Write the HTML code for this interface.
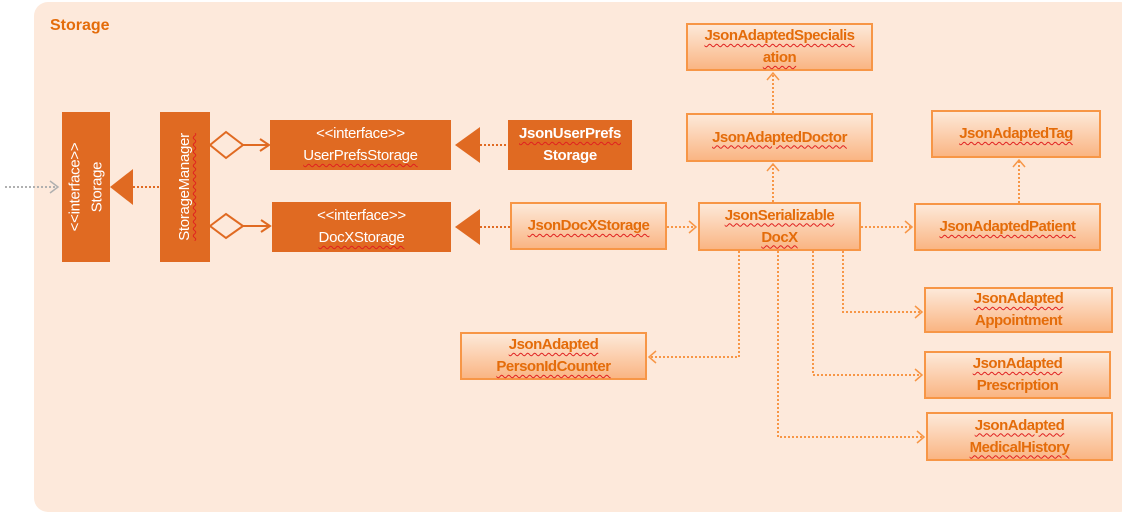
<!DOCTYPE html>
<html><head><meta charset="utf-8"><style>
body{margin:0;width:1122px;height:514px;background:#fff;position:relative;overflow:hidden;font-family:"Liberation Sans",sans-serif;}
.bg{position:absolute;left:34px;top:2px;width:1100px;height:510px;background:#fde9db;border-radius:14px;}
.t{position:absolute;left:50px;top:17px;color:#e46c0a;font-weight:bold;font-size:16px;}
.b{position:absolute;box-sizing:border-box;border:2px solid #f79646;background:linear-gradient(#fde9d9,#fab583);color:#e46c0a;font-weight:bold;font-size:15px;letter-spacing:-0.5px;display:flex;align-items:center;justify-content:center;text-align:center;line-height:22px;}
.d{position:absolute;background:#e06a22;color:#fff;font-size:15px;letter-spacing:-0.3px;display:flex;align-items:center;justify-content:center;text-align:center;line-height:22px;}
.w{text-decoration:underline wavy #e02020;text-decoration-thickness:1px;text-underline-offset:3px;}
.v{transform:rotate(-90deg);white-space:nowrap;}
svg{position:absolute;left:0;top:0;}
</style></head><body>
<div class="bg"></div>
<div class="t">Storage</div>
<svg width="1122" height="514">
<g fill="none" stroke-dasharray="2,2" stroke-width="2">
<line x1="5" y1="187" x2="58" y2="187" stroke="#b0b0b0"/>
<line x1="133" y1="187" x2="160" y2="187" stroke="#e06a22"/>
<line x1="480" y1="145" x2="508" y2="145" stroke="#e06a22"/>
<line x1="480" y1="227" x2="510" y2="227" stroke="#e06a22"/>
<g stroke="#f79646">
<line x1="667" y1="227" x2="696" y2="227"/>
<line x1="861" y1="227" x2="912" y2="227"/>
<line x1="773" y1="202" x2="773" y2="164"/>
<line x1="773" y1="113" x2="773" y2="73"/>
<line x1="1019" y1="203" x2="1019" y2="160"/>
<polyline points="843,251 843,312 922,312"/>
<polyline points="813,251 813,375 922,375"/>
<polyline points="778,251 778,437 924,437"/>
<polyline points="739,251 739,357 649,357"/>
</g></g>
<g fill="none" stroke-width="1.5">
<polyline points="50,181 58,187 50,193" stroke="#b0b0b0"/>
<g stroke="#f79646">
<polyline points="689,221 696,227 689,233"/>
<polyline points="905,221 912,227 905,233"/>
<polyline points="767,171 773,164 779,171"/>
<polyline points="767,80 773,73 779,80"/>
<polyline points="1013,167 1019,160 1025,167"/>
<polyline points="915,306 922,312 915,318"/>
<polyline points="915,369 922,375 915,381"/>
<polyline points="917,431 924,437 917,443"/>
<polyline points="656,351 649,357 656,363"/>
</g>
<g stroke="#e06a22" stroke-width="2">
<polygon points="210,145 226,132 243,145 226,158" fill="#fde9db"/>
<line x1="243" y1="145" x2="269" y2="145"/>
<polyline points="260,139 269,145 260,151"/>
<polygon points="210,226 226,214 243,226 226,238" fill="#fde9db"/>
<line x1="243" y1="226" x2="270" y2="226"/>
<polyline points="261,220 270,226 261,232"/>
</g></g>
<polygon points="110,187 133,169 133,205" fill="#e06a22"/>
<polygon points="455,145 480,127 480,163" fill="#e06a22"/>
<polygon points="455,227 480,209 480,245" fill="#e06a22"/>
</svg>
<div class="d" style="left:62px;top:112px;width:48px;height:150px"><div class="v">&lt;&lt;interface&gt;&gt;<br>Storage</div></div>
<div class="d" style="left:160px;top:112px;width:50px;height:150px"><div class="v"><span class="w">StorageManager</span></div></div>
<div class="d" style="left:270px;top:120px;width:181px;height:50px"><span>&lt;&lt;interface&gt;&gt;<br><span class="w">UserPrefsStorage</span></span></div>
<div class="d" style="left:272px;top:202px;width:179px;height:50px"><span>&lt;&lt;interface&gt;&gt;<br><span class="w">DocXStorage</span></span></div>
<div class="d" style="left:508px;top:120px;width:124px;height:50px;font-weight:bold"><span><span class="w">JsonUserPrefs</span><br>Storage</span></div>
<div class="b" style="left:510px;top:202px;width:157px;height:48px"><span class="w">JsonDocXStorage</span></div>
<div class="b" style="left:698px;top:202px;width:163px;height:49px"><span><span class="w">JsonSerializable</span><br><span class="w">DocX</span></span></div>
<div class="b" style="left:686px;top:113px;width:187px;height:49px"><span class="w">JsonAdaptedDoctor</span></div>
<div class="b" style="left:686px;top:23px;width:187px;height:48px"><span><span class="w">JsonAdaptedSpecialis</span><br><span class="w">ation</span></span></div>
<div class="b" style="left:914px;top:203px;width:187px;height:48px"><span class="w">JsonAdaptedPatient</span></div>
<div class="b" style="left:931px;top:110px;width:170px;height:48px"><span class="w">JsonAdaptedTag</span></div>
<div class="b" style="left:924px;top:287px;width:189px;height:46px"><span><span class="w">JsonAdapted</span><br>Appointment</span></div>
<div class="b" style="left:924px;top:351px;width:187px;height:48px"><span><span class="w">JsonAdapted</span><br>Prescription</span></div>
<div class="b" style="left:926px;top:412px;width:187px;height:49px"><span><span class="w">JsonAdapted</span><br><span class="w">MedicalHistory</span></span></div>
<div class="b" style="left:460px;top:332px;width:187px;height:48px"><span><span class="w">JsonAdapted</span><br><span class="w">PersonIdCounter</span></span></div>
</body></html>
